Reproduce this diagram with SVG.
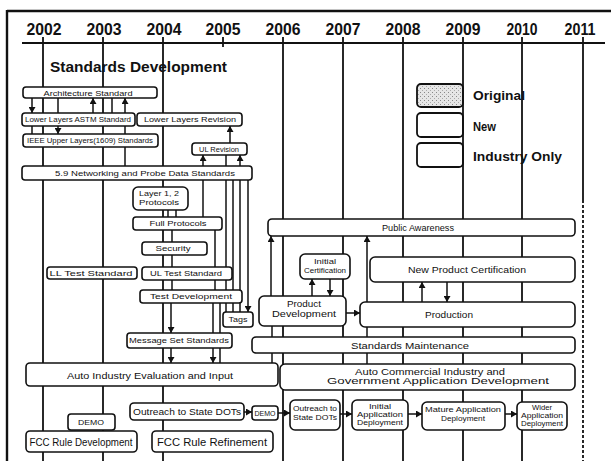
<svg xmlns="http://www.w3.org/2000/svg" width="611" height="461" viewBox="0 0 611 461">
<style>
.frame{stroke:#111;stroke-width:2.4;fill:none}
.yr{stroke:#111;stroke-width:1.8;fill:none}
.ylab{font-family:"Liberation Sans",Arial,sans-serif;font-weight:bold;font-size:17px;fill:#111;text-anchor:middle}
.box rect{fill:#fff;stroke:#111;stroke-width:1.6}
.c{stroke:#111;stroke-width:1.5;fill:none}
.a{stroke:#111;stroke-width:1.5;fill:none;marker-end:url(#ah)}
.t{font-family:"Liberation Sans",Arial,sans-serif;font-size:7px;fill:#111;text-anchor:middle}
.m{font-family:"Liberation Sans",Arial,sans-serif;font-size:9px;fill:#111;text-anchor:middle}
.l{font-family:"Liberation Sans",Arial,sans-serif;font-size:11px;fill:#111;text-anchor:middle}
.leg{font-family:"Liberation Sans",Arial,sans-serif;font-weight:bold;font-size:12px;fill:#111}
</style>
<defs>
<marker id="ah" markerUnits="userSpaceOnUse" markerWidth="7" markerHeight="7" refX="6" refY="3.5" orient="auto">
<path d="M0,0 L6,3.5 L0,7 z" fill="#111"/>
</marker>
<pattern id="stip" width="4" height="4" patternUnits="userSpaceOnUse">
<rect width="4" height="4" fill="#e6e6e6"/>
<rect x="0" y="0" width="1" height="1" fill="#888"/>
<rect x="2" y="2" width="1" height="1" fill="#aaa"/>
</pattern>
</defs>

<g id="frame">
<line class="frame" x1="7" y1="11" x2="611" y2="11"/>
<line class="frame" x1="7" y1="10" x2="7" y2="461"/>
<line class="yr" x1="22" y1="43" x2="605" y2="43"/>
</g>

<g id="legend">
<rect x="417" y="84" width="46" height="23" rx="4" fill="url(#stip)" stroke="#111" stroke-width="1.8"/>
<rect x="417" y="113" width="46" height="24" rx="4" fill="#fff" stroke="#111" stroke-width="1.8"/>
<rect x="417" y="143" width="46" height="24" rx="4" fill="#fff" stroke="#111" stroke-width="1.8"/>
<text class="leg" x="473" y="100" textLength="52" lengthAdjust="spacingAndGlyphs">Original</text>
<text class="leg" x="473" y="131" textLength="23" lengthAdjust="spacingAndGlyphs">New</text>
<text class="leg" x="473" y="161" textLength="89" lengthAdjust="spacingAndGlyphs">Industry Only</text>
</g>

<g id="timeline">
<text class="ylab" x="44" y="35" textLength="35" lengthAdjust="spacingAndGlyphs">2002</text>
<text class="ylab" x="104" y="35" textLength="35" lengthAdjust="spacingAndGlyphs">2003</text>
<text class="ylab" x="164" y="35" textLength="35" lengthAdjust="spacingAndGlyphs">2004</text>
<text class="ylab" x="223" y="35" textLength="35" lengthAdjust="spacingAndGlyphs">2005</text>
<text class="ylab" x="283" y="35" textLength="35" lengthAdjust="spacingAndGlyphs">2006</text>
<text class="ylab" x="343" y="35" textLength="35" lengthAdjust="spacingAndGlyphs">2007</text>
<text class="ylab" x="403" y="35" textLength="35" lengthAdjust="spacingAndGlyphs">2008</text>
<text class="ylab" x="463" y="35" textLength="35" lengthAdjust="spacingAndGlyphs">2009</text>
<text class="ylab" x="522" y="35" textLength="31" lengthAdjust="spacingAndGlyphs">2010</text>
<text class="ylab" x="580" y="35" textLength="31" lengthAdjust="spacingAndGlyphs">2011</text>
<line class="yr" x1="43" y1="37" x2="43" y2="461"/>
<line class="yr" x1="103" y1="37" x2="103" y2="461"/>
<line class="yr" x1="163" y1="37" x2="163" y2="461"/>
<line class="yr" x1="223" y1="37" x2="223" y2="47"/>
<line class="yr" x1="283" y1="37" x2="283" y2="461"/>
<line class="yr" x1="343" y1="37" x2="343" y2="461"/>
<line class="yr" x1="403" y1="37" x2="403" y2="461"/>
<line class="yr" x1="463" y1="37" x2="463" y2="461"/>
<line class="yr" x1="522" y1="37" x2="522" y2="461"/>
<line class="yr" x1="583" y1="37" x2="583" y2="200"/>
<line class="yr" x1="583" y1="200" x2="583" y2="461" stroke-dasharray="3 2"/>
</g>

<g id="connectors">
<path class="a" d="M32,98 V113"/>
<path class="c" d="M58,98 V113"/>
<path class="a" d="M93,113 V98"/>
<path class="c" d="M112,98 V113"/>
<path class="a" d="M125,113 V98"/>
<path class="c" d="M32,126 V134"/>
<path class="a" d="M58,126 V134"/>
<path class="c" d="M125,126 V166"/>
<path class="a" d="M230,143 V126"/>
<path class="a" d="M203,166 V155"/>
<path class="a" d="M240,166 V155"/>
<path class="c" d="M226,155 V166"/>
<path class="c" d="M226,180 V312"/>
<path class="c" d="M233,180 V312"/>
<path class="c" d="M240,180 V312"/>
<path class="a" d="M248,180 V312"/>
<path class="c" d="M203,180 V217"/>
<path class="c" d="M168,210 V217"/>
<path class="c" d="M176,210 V217"/>
<path class="c" d="M172,230 V290"/>
<path class="c" d="M215,230 V290"/>
<path class="a" d="M171,303 V333"/>
<path class="c" d="M213,303 V333"/>
<path class="c" d="M220,303 V333"/>
<path class="a" d="M171,348 V363"/>
<path class="a" d="M213,348 V363"/>
<path class="c" d="M220,348 V363"/>
<path class="a" d="M271,296 V236"/>
<path class="a" d="M312,296 V279"/>
<path class="a" d="M330,279 V296"/>
<path class="a" d="M367,302 V236"/>
<path class="a" d="M422,302 V282"/>
<path class="a" d="M447,282 V302"/>
<path class="a" d="M346,313 H360"/>
<path class="c" d="M272,326 V363"/>
<path class="c" d="M367,327 V364"/>
<path class="a" d="M244,412 H252"/>
<path class="a" d="M278,413 H290"/>
<path class="a" d="M340,414 H352"/>
<path class="a" d="M408,414 H422"/>
<path class="a" d="M505,414 H517"/>
</g>

<g id="title"><text x="50" y="72" font-family="Liberation Sans, Arial, sans-serif" font-weight="bold" font-size="15" fill="#111" textLength="177" lengthAdjust="spacingAndGlyphs">Standards Development</text></g>

<g id="arch" class="box"><rect x="23" y="87" width="134" height="11" rx="3"/><text class="t" x="88" y="95.5" textLength="89" lengthAdjust="spacingAndGlyphs">Architecture Standard</text></g>
<g id="ll" class="box"><rect x="22" y="113" width="113" height="13" rx="3"/><text class="t" x="78" y="122" textLength="106" lengthAdjust="spacingAndGlyphs">Lower Layers ASTM Standard</text></g>
<g id="llrev" class="box"><rect x="137" y="113" width="105" height="13" rx="3"/><text class="t" x="190" y="122" textLength="92" lengthAdjust="spacingAndGlyphs">Lower Layers Revision</text></g>
<g id="ul" class="box"><rect x="23" y="134" width="135" height="13" rx="3"/><text class="t" x="90" y="143" textLength="126" lengthAdjust="spacingAndGlyphs">IEEE Upper Layers(1609) Standards</text></g>
<g id="ulrev" class="box"><rect x="192" y="143" width="55" height="12" rx="3"/><text class="t" x="219" y="151.5" textLength="40" lengthAdjust="spacingAndGlyphs">UL Revision</text></g>
<g id="net" class="box"><rect x="22" y="166" width="230" height="14" rx="3"/><text class="t" x="145" y="175.5" textLength="180" lengthAdjust="spacingAndGlyphs">5.9 Networking and Probe Data Standards</text></g>
<g id="l12" class="box"><rect x="133" y="187" width="55" height="23" rx="5"/><text class="t" x="159" y="196" textLength="40" lengthAdjust="spacingAndGlyphs">Layer 1, 2</text><text class="t" x="159" y="205" textLength="40" lengthAdjust="spacingAndGlyphs">Protocols</text></g>
<g id="full" class="box"><rect x="133" y="217" width="89" height="13" rx="3"/><text class="t" x="178" y="226" textLength="57" lengthAdjust="spacingAndGlyphs">Full Protocols</text></g>
<g id="sec" class="box"><rect x="142" y="242" width="65" height="13" rx="3"/><text class="t" x="173" y="251" textLength="35" lengthAdjust="spacingAndGlyphs">Security</text></g>
<g id="ultest" class="box"><rect x="142" y="267" width="90" height="13" rx="3"/><text class="t" x="186" y="276" textLength="72" lengthAdjust="spacingAndGlyphs">UL Test Standard</text></g>
<g id="lltest" class="box"><rect x="47" y="267" width="90" height="12" rx="3"/><text class="t" x="91" y="275.5" textLength="83" lengthAdjust="spacingAndGlyphs">LL Test Standard</text></g>
<g id="testdev" class="box"><rect x="140" y="290" width="102" height="13" rx="3"/><text class="t" x="191" y="299" textLength="82" lengthAdjust="spacingAndGlyphs">Test Development</text></g>
<g id="tags" class="box"><rect x="223" y="312" width="30" height="15" rx="3"/><text class="t" x="238" y="322" textLength="19" lengthAdjust="spacingAndGlyphs">Tags</text></g>
<g id="msg" class="box"><rect x="127" y="333" width="105" height="15" rx="3"/><text class="t" x="179" y="343" textLength="100" lengthAdjust="spacingAndGlyphs">Message Set Standards</text></g>
<g id="aie" class="box"><rect x="26" y="363" width="252" height="23" rx="4"/><text class="m" x="150" y="379" textLength="166" lengthAdjust="spacingAndGlyphs">Auto Industry Evaluation and Input</text></g>

<g id="pa" class="box"><rect x="268" y="219" width="307" height="17" rx="4"/><text class="m" x="418" y="231" textLength="72" lengthAdjust="spacingAndGlyphs">Public Awareness</text></g>
<g id="ic" class="box"><rect x="300" y="254" width="50" height="25" rx="5"/><text class="t" x="325" y="264" textLength="22" lengthAdjust="spacingAndGlyphs">Initial</text><text class="t" x="325" y="273" textLength="42" lengthAdjust="spacingAndGlyphs">Certification</text></g>
<g id="npc" class="box"><rect x="370" y="257" width="205" height="25" rx="5"/><text class="m" x="467" y="273" textLength="118" lengthAdjust="spacingAndGlyphs">New Product Certification</text></g>
<g id="pd" class="box"><rect x="259" y="296" width="87" height="30" rx="5"/><text class="m" x="304" y="307" textLength="34" lengthAdjust="spacingAndGlyphs">Product</text><text class="m" x="304" y="317" textLength="64" lengthAdjust="spacingAndGlyphs">Development</text></g>
<g id="prod" class="box"><rect x="360" y="302" width="215" height="25" rx="5"/><text class="m" x="449" y="318" textLength="48" lengthAdjust="spacingAndGlyphs">Production</text></g>
<g id="sm" class="box"><rect x="252" y="337" width="323" height="16" rx="4"/><text class="m" x="410" y="348.5" textLength="118" lengthAdjust="spacingAndGlyphs">Standards Maintenance</text></g>
<g id="ac" class="box"><rect x="280" y="364" width="295" height="26" rx="5"/><text class="m" x="430" y="375" textLength="150" lengthAdjust="spacingAndGlyphs">Auto Commercial Industry and</text><text class="m" x="438" y="384" textLength="222" lengthAdjust="spacingAndGlyphs">Government Application Development</text></g>

<g id="outreach1" class="box"><rect x="130" y="403" width="114" height="17" rx="4"/><text class="m" x="187" y="415" textLength="108" lengthAdjust="spacingAndGlyphs">Outreach to State DOTs</text></g>
<g id="demo2" class="box"><rect x="252" y="406" width="26" height="14" rx="3"/><text class="t" x="265" y="416" textLength="21" lengthAdjust="spacingAndGlyphs">DEMO</text></g>
<g id="outreach2" class="box"><rect x="290" y="400" width="50" height="30" rx="5"/><text class="t" x="315" y="411" textLength="44" lengthAdjust="spacingAndGlyphs">Outreach to</text><text class="t" x="315" y="420" textLength="44" lengthAdjust="spacingAndGlyphs">State DOTs</text></g>
<g id="initapp" class="box"><rect x="352" y="400" width="56" height="30" rx="5"/><text class="t" x="380" y="409" textLength="22" lengthAdjust="spacingAndGlyphs">Initial</text><text class="t" x="380" y="417" textLength="46" lengthAdjust="spacingAndGlyphs">Application</text><text class="t" x="380" y="425" textLength="46" lengthAdjust="spacingAndGlyphs">Deployment</text></g>
<g id="mature" class="box"><rect x="422" y="402" width="83" height="28" rx="5"/><text class="t" x="463" y="412" textLength="76" lengthAdjust="spacingAndGlyphs">Mature Application</text><text class="t" x="463" y="421" textLength="44" lengthAdjust="spacingAndGlyphs">Deployment</text></g>
<g id="wider" class="box"><rect x="517" y="402" width="50" height="28" rx="5"/><text class="t" x="542" y="410" textLength="20" lengthAdjust="spacingAndGlyphs">Wider</text><text class="t" x="542" y="418" textLength="42" lengthAdjust="spacingAndGlyphs">Application</text><text class="t" x="542" y="426" textLength="42" lengthAdjust="spacingAndGlyphs">Deployment</text></g>
<g id="demo1" class="box"><rect x="68" y="414" width="47" height="16" rx="3"/><text class="t" x="91" y="425" textLength="26" lengthAdjust="spacingAndGlyphs">DEMO</text></g>
<g id="fccdev" class="box"><rect x="26" y="431" width="111" height="21" rx="4"/><text class="l" x="81" y="446" textLength="103" lengthAdjust="spacingAndGlyphs">FCC Rule Development</text></g>
<g id="fccref" class="box"><rect x="152" y="431" width="121" height="21" rx="4"/><text class="l" x="212" y="446" textLength="110" lengthAdjust="spacingAndGlyphs">FCC Rule Refinement</text></g>
</svg>
